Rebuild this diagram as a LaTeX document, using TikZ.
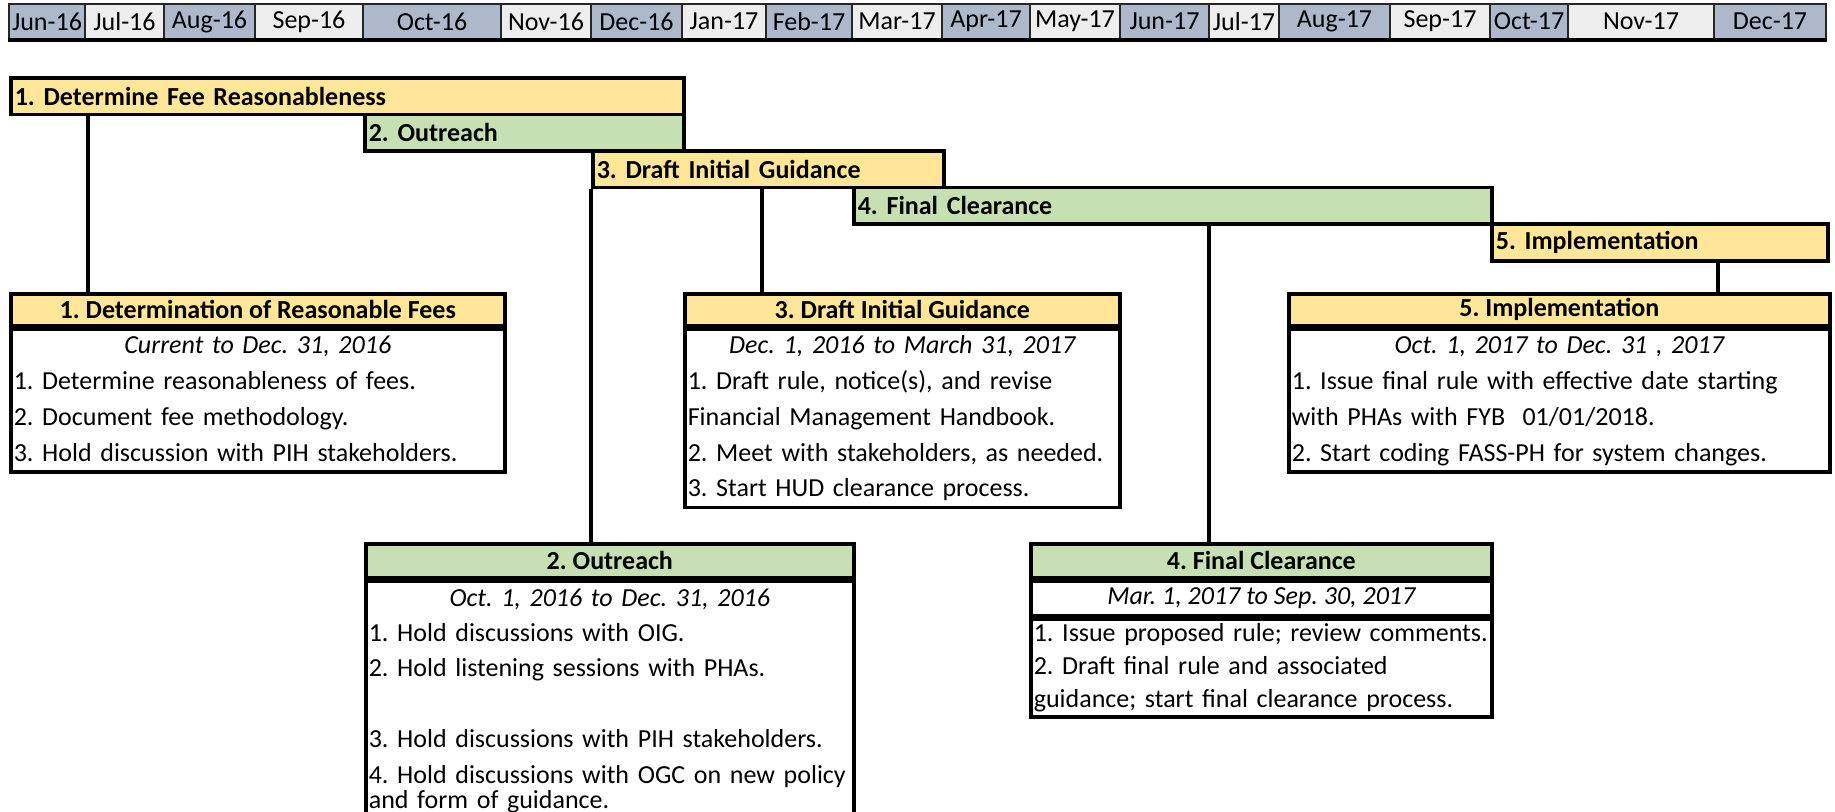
\documentclass[tikz,border=0pt]{standalone}
\usepackage{fontspec}
\setmainfont{Carlito}
\frenchspacing
\usetikzlibrary{positioning,calc}

\definecolor{monthblue}{HTML}{ADB9CA}
\definecolor{monthgray}{HTML}{EDEDED}
\definecolor{phaseyellow}{HTML}{FFE699}
\definecolor{phasegreen}{HTML}{C6E0B4}

\begin{document}
\begin{tikzpicture}[
    x=0.5pt, y=-0.5pt,
    font=\fontsize{13}{17.85}\selectfont,
    month/.style={draw=black!85, line width=0.6pt, inner sep=0pt, minimum height=17.5pt},
    bar/.style={draw, line width=1.8pt, anchor=north west, inner xsep=2pt, inner ysep=0pt, minimum height=18.3pt, align=left, font=\fontsize{13}{15}\selectfont\bfseries},
    boxhead/.style={draw, line width=1.8pt, anchor=north west, inner sep=0pt, minimum height=17pt, align=center, font=\fontsize{13}{15}\selectfont\bfseries},
    boxbody/.style={draw, line width=1.8pt, anchor=north west, inner xsep=1.5pt, inner ysep=0pt, align=left, execute at begin node=\strut, execute at end node=\strut},
    link/.style={line width=1.8pt}
]
\useasboundingbox (0,0) rectangle (1835,812);
\clip (0,0) rectangle (1835,812);

% month header
\node[month, fill=monthblue, minimum width=38pt] (m1) at (47,21.5) {Jun-16};
\node[month, fill=monthgray, minimum width=39.5pt] (m2) at (124.5,21.5) {Jul-16};
\node[month, fill=monthblue, minimum width=45.5pt] (m3) at (209.5,21.5) {Aug-16};
\node[month, fill=monthgray, minimum width=54pt] (m4) at (309,21.5) {Sep-16};
\node[month, fill=monthblue, minimum width=69pt] (m5) at (432,21.5) {Oct-16};
\node[month, fill=monthgray, minimum width=45pt] (m6) at (546,21.5) {Nov-16};
\node[month, fill=monthblue, minimum width=45.5pt] (m7) at (636.5,21.5) {Dec-16};
\node[month, fill=monthgray, minimum width=42pt] (m8) at (724,21.5) {Jan-17};
\node[month, fill=monthblue, minimum width=43pt] (m9) at (809,21.5) {Feb-17};
\node[month, fill=monthgray, minimum width=45pt] (m10) at (897,21.5) {Mar-17};
\node[month, fill=monthblue, minimum width=44pt] (m11) at (986,21.5) {Apr-17};
\node[month, fill=monthgray, minimum width=45pt] (m12) at (1075,21.5) {May-17};
\node[month, fill=monthblue, minimum width=44.5pt] (m13) at (1164.5,21.5) {Jun-17};
\node[month, fill=monthgray, minimum width=35pt] (m14) at (1244,21.5) {Jul-17};
\node[month, fill=monthblue, minimum width=55.5pt] (m15) at (1334.5,21.5) {Aug-17};
\node[month, fill=monthgray, minimum width=50pt] (m16) at (1440,21.5) {Sep-17};
\node[month, fill=monthblue, minimum width=39pt] (m17) at (1529,21.5) {Oct-17};
\node[month, fill=monthgray, minimum width=73pt] (m18) at (1641,21.5) {Nov-17};
\node[month, fill=monthblue, minimum width=56pt] (m19) at (1770,21.5) {Dec-17};
\draw[line width=2pt] (m1.south west) -- (m19.south east);

% phase bars
\node[bar, fill=phaseyellow, text width=332.5pt] (bar1) at (9,76) {1. Determine Fee Reasonableness};
\node[bar, fill=phasegreen, text width=155.5pt] (bar2) at (363,112.6) {2. Outreach};
\node[bar, fill=phaseyellow, text width=171.5pt] (bar3) at (591,149.2) {3. Draft Initial Guidance};
\node[bar, fill=phasegreen, text width=315pt] (bar4) at (852,185.8) {4. Final Clearance};
\node[bar, fill=phaseyellow, text width=164pt] (bar5) at (1490,222.4) {5. Implementation};

% detail boxes
\node[boxhead, fill=phaseyellow, minimum width=247pt, minimum height=15.8pt] (h1) at (9,292) {1. Determination of Reasonable Fees};
\node[boxbody, text width=244pt] (b1) at (h1.south west) {\makebox[\linewidth]{\itshape Current to Dec. 31, 2016}\\
1. Determine reasonableness of fees.\\
2. Document fee methodology.\\
3. Hold discussion with PIH stakeholders.};

\node[boxhead, fill=phaseyellow, minimum width=217.5pt, minimum height=15.8pt] (h3) at (683,292) {3. Draft Initial Guidance};
\node[boxbody, text width=214.5pt] (b3) at (h3.south west) {\makebox[\linewidth]{\itshape Dec. 1, 2016 to March 31, 2017}\\
1. Draft rule, notice(s), and revise\\
Financial Management Handbook.\\
2. Meet with stakeholders, as needed.\\
3. Start HUD clearance process.};

\node[boxhead, fill=phaseyellow, minimum width=270.5pt, minimum height=15.8pt] (h5) at (1287,292) {5. Implementation};
\node[boxbody, text width=267.5pt] (b5) at (h5.south west) {\makebox[\linewidth]{\itshape Oct. 1, 2017 to Dec. 31 , 2017}\\
1. Issue final rule with effective date starting\\
with PHAs with FYB\ \ 01/01/2018.\\
2. Start coding FASS-PH for system changes.};

\node[boxhead, fill=phasegreen, minimum width=244pt] (h2) at (364,542) {2. Outreach};
\node[boxbody, text width=241pt, font=\fontsize{13}{17.7}\selectfont] (b2) at (h2.south west) {\makebox[\linewidth]{\itshape Oct. 1, 2016 to Dec. 31, 2016}\\
1. Hold discussions with OIG.\\
2. Hold listening sessions with PHAs.\\
\mbox{}\\
3. Hold discussions with PIH stakeholders.\\
4. Hold discussions with OGC on new policy\\[-5pt]
and form of guidance.};

\node[boxhead, fill=phasegreen, minimum width=230.5pt] (h4) at (1029,542) {4. Final Clearance};
\node[boxhead, font=\fontsize{13}{15}\selectfont\itshape, minimum width=230.5pt, minimum height=17pt] (d4) at (h4.south west) {Mar. 1, 2017 to Sep. 30, 2017};
\node[boxbody, text width=227.5pt, font=\fontsize{13}{16.3}\selectfont] (b4) at (d4.south west) {1. Issue proposed rule; review comments.\\
2. Draft final rule and associated\\
guidance; start final clearance process.};

% connectors
\coordinate (k1) at (88,0);
\coordinate (k3) at (762,0);
\coordinate (k4) at (1209,0);
\coordinate (k5) at (1718,0);
\draw[link] (bar1.south -| k1) -- (h1.north -| k1);
\draw[link] (bar3.south west) -- (bar3.south west |- h2.north);
\draw[link] (bar3.south -| k3) -- (h3.north -| k3);
\draw[link] (bar4.south -| k4) -- (h4.north -| k4);
\draw[link] (bar5.south -| k5) -- (h5.north -| k5);

\end{tikzpicture}
\end{document}
